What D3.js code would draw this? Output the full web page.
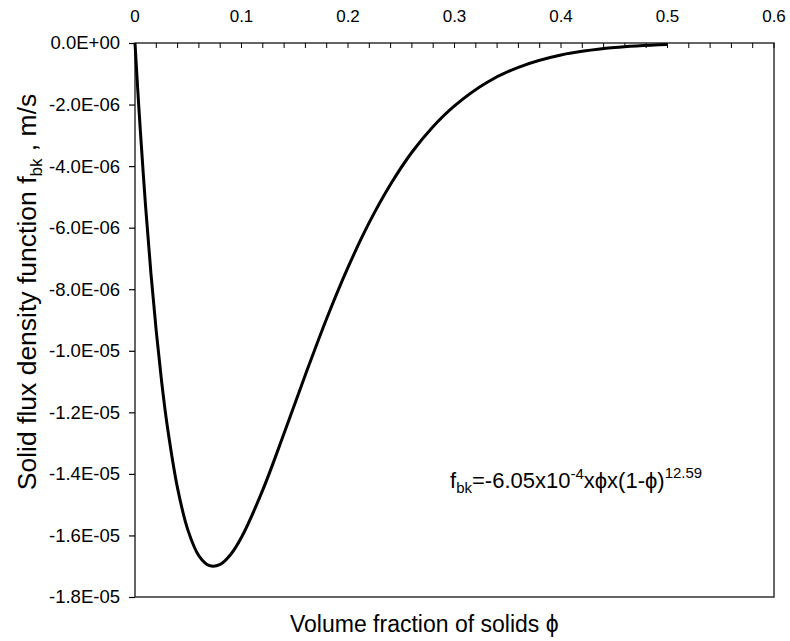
<!DOCTYPE html>
<html>
<head>
    <style>
        body { margin: 0; background: #fff; }
        svg text { font-family: "Liberation Sans", Arial, sans-serif; fill: #000; }
    </style>
</head>
<body>
    <div id="chart"></div>
    <script src="https://cdnjs.cloudflare.com/ajax/libs/d3/7.8.5/d3.min.js"></script>
    <script>
        // Values
        const phi = [0, 0.0025, 0.005, 0.01, 0.015, 0.02, 0.025, 0.03, 0.04, 0.05, 0.06, 0.07, 0.08, 0.09, 0.10,
                     0.12, 0.14, 0.16, 0.18, 0.20, 0.22, 0.24, 0.26, 0.28, 0.30, 0.33, 0.36, 0.40, 0.45, 0.50];
        const flux = [0, -1.47e-6, -2.84e-6, -5.33e-6, -7.50e-6, -9.38e-6, -1.10e-5, -1.237e-5, -1.447e-5, -1.586e-5,
                      -1.666e-5, -1.698e-5, -1.694e-5, -1.661e-5, -1.606e-5, -1.452e-5, -1.268e-5, -1.078e-5,
                      -8.95e-6, -7.29e-6, -5.83e-6, -4.59e-6, -3.55e-6, -2.71e-6, -2.04e-6, -1.29e-6, -7.9e-7,
                      -3.9e-7, -1.5e-7, -5e-8];
        const xTicks = [0, 0.1, 0.2, 0.3, 0.4, 0.5, 0.6];
        const yTicks = [0, -2e-6, -4e-6, -6e-6, -8e-6, -1e-5, -1.2e-5, -1.4e-5, -1.6e-5, -1.8e-5];
        const yLabels = ["0.0E+00", "-2.0E-06", "-4.0E-06", "-6.0E-06", "-8.0E-06",
                         "-1.0E-05", "-1.2E-05", "-1.4E-05", "-1.6E-05", "-1.8E-05"];

        const width = 790, height = 641;
        const plotL = 135, plotT = 43, plotR = 774, plotB = 597;

        const svg = d3.select("#chart").append("svg")
            .attr("width", width).attr("height", height);

        const x = d3.scaleLinear().domain([0, 0.6]).range([plotL, plotR]);
        const y = d3.scaleLinear().domain([0, -1.8e-5]).range([plotT, plotB]);

        // plot box
        svg.append("rect")
            .attr("x", plotL).attr("y", plotT)
            .attr("width", plotR - plotL).attr("height", plotB - plotT)
            .attr("fill", "none").attr("stroke", "#333").attr("stroke-width", 1.5);

        // top axis: labels every 0.1, minor ticks every 0.02 pointing inward
        const minor = d3.range(0, 0.6001, 0.02);
        svg.append("g")
            .selectAll("line").data(minor).join("line")
            .attr("x1", d => x(d)).attr("x2", d => x(d))
            .attr("y1", plotT).attr("y2", plotT + 5)
            .attr("stroke", "#000").attr("stroke-width", 1);

        svg.append("g")
            .selectAll("text").data(xTicks).join("text")
            .attr("x", d => x(d)).attr("y", 22)
            .attr("text-anchor", "middle")
            .attr("font-size", 17)
            .text(d => d === 0 ? "0" : d3.format(".1f")(d));

        // left axis
        const yAxis = d3.axisLeft(y).tickValues(yTicks)
            .tickSize(6).tickPadding(9)
            .tickFormat((d, i) => yLabels[i]);
        const gy = svg.append("g").attr("transform", `translate(${plotL},0)`).call(yAxis);
        gy.select(".domain").remove();
        gy.selectAll("line").attr("stroke", "#000").attr("stroke-width", 1.2);
        gy.selectAll("text").attr("font-size", 18.5)
            .attr("font-family", "Liberation Sans, Arial, sans-serif");

        // curve
        const pts = phi.map((p, i) => [p, flux[i]]);
        const line = d3.line().x(d => x(d[0])).y(d => y(d[1])).curve(d3.curveCatmullRom);
        svg.append("path")
            .datum(pts)
            .attr("d", line)
            .attr("fill", "none")
            .attr("stroke", "#000")
            .attr("stroke-width", 3);

        // equation
        const eq = svg.append("text").attr("x", 450).attr("y", 488).attr("font-size", 22);
        eq.append("tspan").text("f");
        eq.append("tspan").attr("font-size", 15).attr("dy", 5).text("bk");
        eq.append("tspan").attr("dy", -5).text("=-6.05x10");
        eq.append("tspan").attr("font-size", 15).attr("dy", -9).text("-4");
        eq.append("tspan").attr("dy", 9).text("xϕx(1-ϕ)");
        eq.append("tspan").attr("font-size", 15).attr("dy", -10).text("12.59");

        // axis titles
        svg.append("text")
            .attr("x", 290).attr("y", 632)
            .attr("font-size", 23)
            .text("Volume fraction of solids ϕ");

        const yt = svg.append("text")
            .attr("transform", `translate(36,292) rotate(-90)`)
            .attr("text-anchor", "middle")
            .attr("font-size", 26.5);
        yt.append("tspan").text("Solid flux density function f");
        yt.append("tspan").attr("font-size", 17).attr("dy", 6).text("bk");
        yt.append("tspan").attr("dy", -6).text(" , m/s");
    </script>
</body>
</html>
